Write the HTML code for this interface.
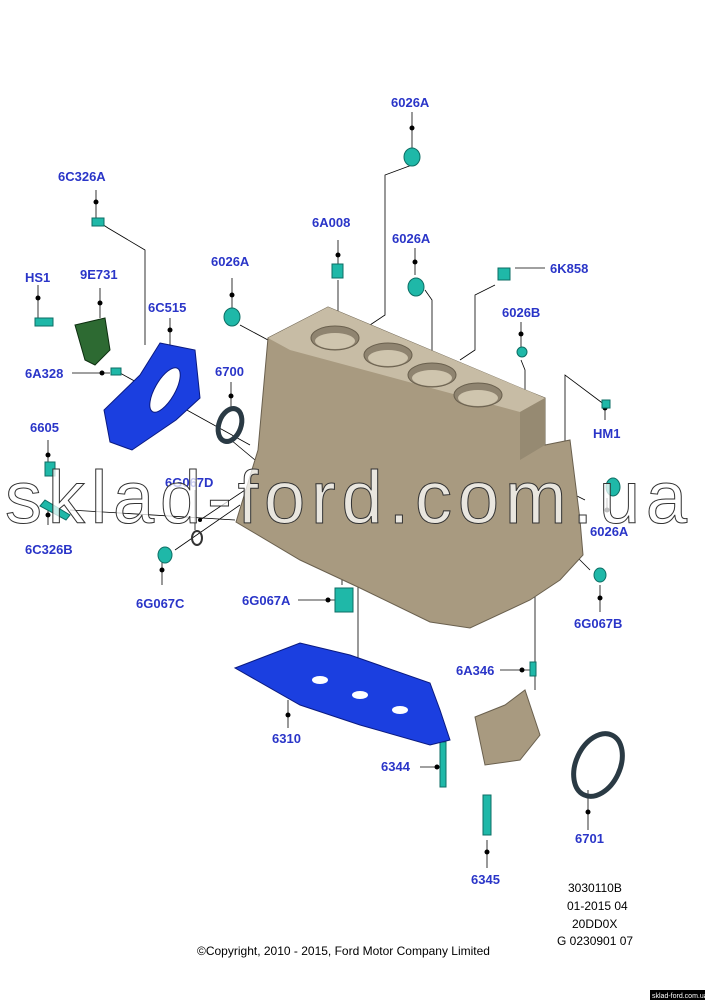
<!DOCTYPE html>
<html><head><style>
body{margin:0;background:#fff;}
svg{display:block}
.l{font-family:"Liberation Sans",sans-serif;font-weight:bold;font-size:13px;fill:#2a35c8}
.k{font-family:"Liberation Sans",sans-serif;font-size:12px;fill:#000}
</style></head><body>
<svg width="705" height="1000" viewBox="0 0 705 1000" xmlns="http://www.w3.org/2000/svg">
<g stroke="#000" stroke-width="0.8" fill="none">
<polyline points="412,112 412,150"/><polyline points="412,165 385,175 385,315 370,325"/>
<polyline points="96,190 96,220 108,228 145,250 145,345"/>
<polyline points="338,240 338,265"/><polyline points="338,280 338,320"/>
<polyline points="232,278 232,308"/><polyline points="240,325 268,340"/>
<polyline points="415,248 415,275"/><polyline points="425,290 432,300 432,620"/>
<polyline points="545,268 515,268"/><polyline points="495,285 475,295 475,350 460,360"/>
<polyline points="521,322 521,350"/><polyline points="521,360 525,370 525,390"/>
<polyline points="38,285 38,322"/><polyline points="100,288 100,318"/>
<polyline points="170,318 170,345"/>
<polyline points="72,373 110,373"/><polyline points="120,373 250,445"/>
<polyline points="231,382 231,408"/><polyline points="231,440 255,460"/>
<polyline points="605,420 605,405 565,375 565,490 585,500"/>
<polyline points="48,440 48,465"/>
<polyline points="48,505 48,525"/><polyline points="70,510 235,520"/>
<polyline points="195,490 195,530"/><polyline points="200,520 275,470"/>
<polyline points="162,585 162,560"/><polyline points="175,550 240,505"/>
<polyline points="298,600 335,600"/><polyline points="342,585 342,565"/>
<polyline points="600,612 600,585"/><polyline points="590,570 540,520"/>
<polyline points="500,670 530,670"/><polyline points="535,690 535,580"/>
<polyline points="358,585 358,690"/>
<polyline points="288,728 288,700"/>
<polyline points="420,767 442,767"/>
<polyline points="487,868 487,840"/>
<polyline points="588,830 588,790"/>
<polyline points="607,512 607,498"/>
</g>
<g fill="#000">
<circle cx="412" cy="128" r="2.5"/><circle cx="96" cy="202" r="2.5"/><circle cx="338" cy="255" r="2.5"/>
<circle cx="232" cy="295" r="2.5"/><circle cx="415" cy="262" r="2.5"/><circle cx="521" cy="334" r="2.5"/>
<circle cx="38" cy="298" r="2.5"/><circle cx="100" cy="303" r="2.5"/><circle cx="170" cy="330" r="2.5"/>
<circle cx="102" cy="373" r="2.5"/><circle cx="231" cy="396" r="2.5"/><circle cx="605" cy="408" r="2.5"/>
<circle cx="48" cy="455" r="2.5"/><circle cx="48" cy="515" r="2.5"/><circle cx="162" cy="570" r="2.5"/>
<circle cx="328" cy="600" r="2.5"/><circle cx="600" cy="598" r="2.5"/><circle cx="522" cy="670" r="2.5"/>
<circle cx="288" cy="715" r="2.5"/><circle cx="437" cy="767" r="2.5"/><circle cx="487" cy="852" r="2.5"/>
<circle cx="588" cy="812" r="2.5"/><circle cx="607" cy="510" r="2.5"/><circle cx="200" cy="520" r="2"/>
</g>
<!-- engine block -->
<polygon points="268,338 328,307 530,392 545,398 545,445 570,440 580,520 583,555 560,580 530,600 470,628 430,622 360,588 300,560 236,522 258,450" fill="#a89a80" stroke="#6a604e" stroke-width="1"/>
<polygon points="268,338 328,307 545,398 520,412 290,350" fill="#c7bca5"/>
<polygon points="520,412 545,398 545,445 520,460" fill="#968a72"/>
<g fill="#8f8470" stroke="#6a604e">
<ellipse cx="335" cy="338" rx="24" ry="12"/><ellipse cx="388" cy="355" rx="24" ry="12"/>
<ellipse cx="432" cy="375" rx="24" ry="12"/><ellipse cx="478" cy="395" rx="24" ry="12"/>
</g>
<g fill="#cfc5ae">
<ellipse cx="335" cy="341" rx="20" ry="8"/><ellipse cx="388" cy="358" rx="20" ry="8"/>
<ellipse cx="432" cy="378" rx="20" ry="8"/><ellipse cx="478" cy="398" rx="20" ry="8"/>
</g>
<!-- cyan parts -->
<g fill="#1fb8a8" stroke="#0d6e64">
<ellipse cx="412" cy="157" rx="8" ry="9"/><rect x="332" y="264" width="11" height="14"/>
<ellipse cx="232" cy="317" rx="8" ry="9"/><ellipse cx="416" cy="287" rx="8" ry="9"/>
<ellipse cx="522" cy="352" rx="5" ry="5"/><rect x="498" y="268" width="12" height="12"/>
<rect x="602" y="400" width="8" height="8"/><ellipse cx="613" cy="487" rx="7" ry="9"/>
<ellipse cx="165" cy="555" rx="7" ry="8"/><ellipse cx="600" cy="575" rx="6" ry="7"/>
<rect x="335" y="588" width="18" height="24"/><rect x="530" y="662" width="6" height="14"/>
<rect x="92" y="218" width="12" height="8"/><rect x="35" y="318" width="18" height="8"/>
<rect x="111" y="368" width="10" height="7"/><rect x="45" y="462" width="10" height="14"/>
<polygon points="45,500 70,515 66,520 40,506"/>
<rect x="440" y="742" width="6" height="45"/><rect x="483" y="795" width="8" height="40"/>
</g>
<polygon points="75,325 105,318 110,350 95,365 85,360" fill="#2d6a32" stroke="#0d2e10"/>
<!-- blue parts -->
<polygon points="160,343 195,350 200,398 176,420 132,450 110,442 104,410 140,375" fill="#1b3fe0" stroke="#0a1a80"/>
<ellipse cx="165" cy="390" rx="10" ry="25" fill="#fff" stroke="#0a1a80" transform="rotate(30 165 390)"/>
<polygon points="235,668 300,643 350,655 430,683 440,710 450,740 430,745 360,725 300,705" fill="#1b3fe0" stroke="#0a1a80"/>
<g fill="#fff"><ellipse cx="320" cy="680" rx="8" ry="4"/><ellipse cx="360" cy="695" rx="8" ry="4"/><ellipse cx="400" cy="710" rx="8" ry="4"/></g>
<!-- seals -->
<ellipse cx="230" cy="425" rx="11" ry="17" fill="none" stroke="#2a3a44" stroke-width="5" transform="rotate(20 230 425)"/>
<ellipse cx="197" cy="538" rx="5" ry="7" fill="none" stroke="#333" stroke-width="2"/>
<ellipse cx="598" cy="765" rx="22" ry="33" fill="none" stroke="#2a3a44" stroke-width="5" transform="rotate(25 598 765)"/>
<polygon points="475,717 505,705 525,690 540,735 520,760 485,765" fill="#a89a80" stroke="#6a604e"/>
<!-- labels -->
<text class="l" x="391" y="107">6026A</text>
<text class="l" x="58" y="181">6C326A</text>
<text class="l" x="312" y="227">6A008</text>
<text class="l" x="211" y="266">6026A</text>
<text class="l" x="392" y="243">6026A</text>
<text class="l" x="550" y="273">6K858</text>
<text class="l" x="25" y="282">HS1</text>
<text class="l" x="80" y="279">9E731</text>
<text class="l" x="148" y="312">6C515</text>
<text class="l" x="502" y="317">6026B</text>
<text class="l" x="25" y="378">6A328</text>
<text class="l" x="215" y="376">6700</text>
<text class="l" x="30" y="432">6605</text>
<text class="l" x="593" y="438">HM1</text>
<text class="l" x="165" y="487">6G067D</text>
<text class="l" x="25" y="554">6C326B</text>
<text class="l" x="590" y="536">6026A</text>
<text class="l" x="136" y="608">6G067C</text>
<text class="l" x="242" y="605">6G067A</text>
<text class="l" x="574" y="628">6G067B</text>
<text class="l" x="456" y="675">6A346</text>
<text class="l" x="272" y="743">6310</text>
<text class="l" x="381" y="771">6344</text>
<text class="l" x="575" y="843">6701</text>
<text class="l" x="471" y="884">6345</text>
<text class="k" x="568" y="892">3030110B</text>
<text class="k" x="567" y="910">01-2015 04</text>
<text class="k" x="572" y="928">20DD0X</text>
<text class="k" x="557" y="945">G 0230901 07</text>
<text class="k" x="197" y="955">©Copyright, 2010 - 2015, Ford Motor Company Limited</text>
<text x="5" y="523" font-family="Liberation Sans,sans-serif" font-size="74" fill="#fff" fill-opacity="0.75" stroke="#333" stroke-width="1" textLength="682">sklad-ford.com.ua</text>
<rect x="650" y="990" width="55" height="10" fill="#000"/>
<text x="652" y="998" font-family="Liberation Sans,sans-serif" font-size="7" fill="#fff">sklad-ford.com.ua</text>
</svg>
</body></html>
